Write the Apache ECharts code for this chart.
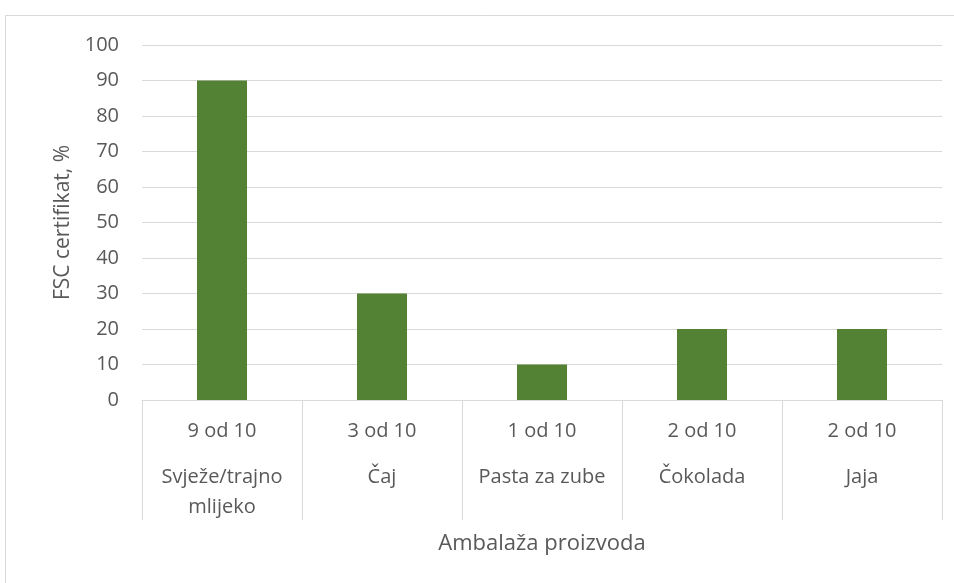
<!DOCTYPE html>
<html>
<head>
<meta charset="utf-8">
<script src="https://cdn.jsdelivr.net/npm/echarts@6/dist/echarts.min.js"></script>
<style>
  html, body { margin: 0; padding: 0; background: #fff; }
  #chart { width: 954px; height: 583px; }
</style>
</head>
<body>
<div id="chart"></div>
<script>
const categories = ['Svježe/trajno mlijeko', 'Čaj', 'Pasta za zube', 'Čokolada', 'Jaja']
const counts = ['9 od 10', '3 od 10', '1 od 10', '2 od 10', '2 od 10']
const values = [90, 30, 10, 20, 20]

const textColor = '#595959'
const font = 'Open Sans'

function wrapName(name) {
  if (name.length <= 15) return [name]
  const i = name.lastIndexOf(' ')
  return [name.slice(0, i), name.slice(i + 1)]
}

const chart = echarts.init(document.getElementById('chart'))

chart.setOption({
  animation: false,
  textStyle: { fontFamily: font, color: textColor },
  graphic: [{
    type: 'rect',
    shape: { x: 5.5, y: 15.5, width: 960, height: 580 },
    style: { fill: 'none', stroke: '#d9d9d9', lineWidth: 1 },
    silent: true
  }],
  grid: { left: 142, right: 12, top: 45, bottom: 183 },
  xAxis: {
    type: 'category',
    data: categories,
    name: 'Ambalaža proizvoda',
    nameLocation: 'middle',
    nameGap: 133,
    nameTextStyle: { fontSize: 22, color: textColor, fontFamily: font },
    axisLine: { lineStyle: { color: '#d9d9d9', width: 1 } },
    axisTick: { show: true, interval: 0, length: 120, lineStyle: { color: '#d9d9d9' } },
    axisLabel: {
      interval: 0,
      margin: 8,
      formatter: (val, idx) => {
        const lines = wrapName(val)
        let s = '{a|' + counts[idx] + '}\n{b|' + lines[0] + '}'
        if (lines[1]) s += '\n{c|' + lines[1] + '}'
        return s
      },
      rich: {
        a: { fontSize: 20, lineHeight: 46, color: textColor, fontFamily: font },
        b: { fontSize: 20, lineHeight: 46, color: textColor, fontFamily: font },
        c: { fontSize: 20, lineHeight: 14, color: textColor, fontFamily: font }
      },
      verticalAlign: 'top'
    }
  },
  yAxis: {
    type: 'value',
    min: 0,
    max: 100,
    interval: 10,
    name: 'FSC certifikat, %',
    nameLocation: 'middle',
    nameGap: 66,
    nameRotate: 90,
    nameTextStyle: { fontSize: 21, color: textColor, fontFamily: font },
    axisLine: { show: false },
    axisTick: { show: false },
    axisLabel: { fontSize: 20, color: textColor, margin: 23, fontFamily: font },
    splitLine: { lineStyle: { color: '#d9d9d9', width: 1 } }
  },
  series: [{
    type: 'bar',
    data: values,
    barWidth: 50,
    itemStyle: { color: '#548235' }
  }]
})
</script>
</body>
</html>
